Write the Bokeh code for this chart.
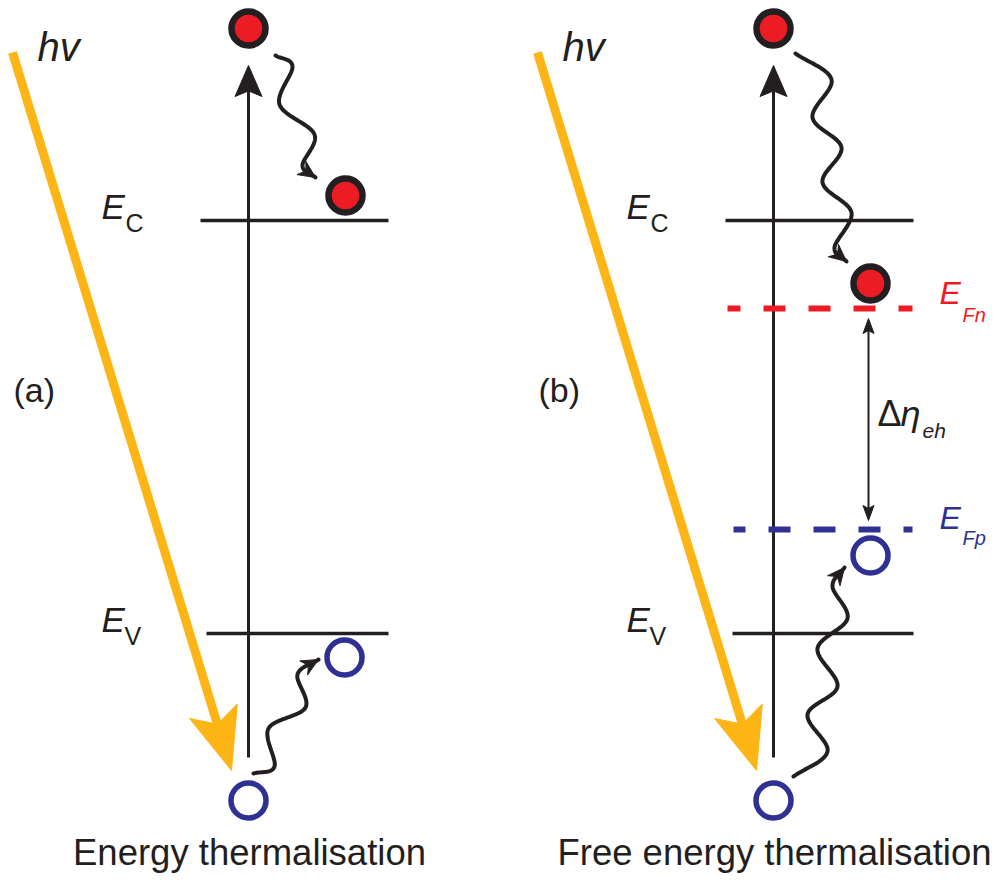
import numpy as np
from bokeh.plotting import figure
from bokeh.models import Range1d
from bokeh.core.properties import value
from bokeh.embed import file_html
from bokeh.resources import INLINE

W, H = 1004, 880

# colours
YELLOW = "#FDB515"
RED = "#ED1C24"
BLUE = "#2E3192"
INK = "#231F20"
FONT = value("Liberation Sans")

# the two panels share one layout, the second one shifted to the right
panel_dx = [0, 525]
panel_tags = ["(a)", "(b)"]
captions = ["Energy thermalisation", "Free energy thermalisation"]

# energy levels (screen y grows downwards)
ec_y = 220
ev_y = 633
efn_y = 308
efp_y = 529

# band edges: x extent per panel (left, right)
ec_span = [(200, 388), (725, 913)]
ev_span = [(206, 388), (732, 913)]

# photon arrow (start, tip) and excitation arrow
photon_start = (12, 52)
photon_tip = (231, 770)
excite_x = 248
excite_bottom = 757
excite_tip = 65

# carriers
hot_electron = (248, 28)
hot_hole = (248, 800)
cool_electron = [(345, 195), (870, 283)]
cool_hole = [(344, 657), (870, 555)]

# relaxation paths (turning points of the wavy arrows)
relax_e = [
    [(275, 55), (292, 66), (279, 104), (314, 134), (302, 165), (315, 177)],
    [(795, 53), (831, 79), (812, 117), (841, 147), (822, 182), (851, 212),
     (834, 247), (846, 261)],
]
relax_h = [
    [(253, 773), (274, 766), (268, 728), (305, 707), (297, 674), (318, 659)],
    [(793, 776), (827, 751), (807, 714), (837, 686), (817, 648), (847, 618),
     (832, 586), (844, 567)],
]

# quasi-Fermi levels (panel b only)
efn_span = (727, 912)
efp_span = (733, 912)
split_x = 868
split_top = 318
split_bottom = 520


def head(tip, tail, length, half, notch=0.8):
    """Arrowhead polygon with a slightly notched back."""
    tx, ty = tip
    dx, dy = tx - tail[0], ty - tail[1]
    n = np.hypot(dx, dy)
    ux, uy = dx / n, dy / n
    px, py = -uy, ux
    bx, by = tx - length * ux, ty - length * uy
    xs = [tx, bx + half * px, tx - notch * length * ux, bx - half * px]
    ys = [ty, by + half * py, ty - notch * length * uy, by - half * py]
    return xs, ys


def smooth(pts, n=30):
    """Catmull-Rom curve through the given points."""
    P = np.array(pts, float)
    P = np.vstack([2 * P[0] - P[1], P, 2 * P[-1] - P[-2]])
    out = []
    t = np.linspace(0, 1, n, endpoint=False)[:, None]
    for i in range(1, len(P) - 2):
        p0, p1, p2, p3 = P[i - 1], P[i], P[i + 1], P[i + 2]
        seg = 0.5 * ((2 * p1) + (-p0 + p2) * t
                     + (2 * p0 - 5 * p1 + 4 * p2 - p3) * t ** 2
                     + (-p0 + 3 * p1 - 3 * p2 + p3) * t ** 3)
        out.append(seg)
    out.append(P[-2][None, :])
    return np.vstack(out)


p = figure(width=W, height=H, x_range=Range1d(0, W), y_range=Range1d(H, 0),
           output_backend="svg", toolbar_location=None,
           x_axis_location=None, y_axis_location=None, min_border=0)
p.xgrid.grid_line_color = None
p.ygrid.grid_line_color = None
p.outline_line_color = None
p.background_fill_color = "white"
p.border_fill_color = "white"


def text(x, y, s, size, color=INK, style="normal", align="left"):
    # y is the baseline; the renderer places glyphs a little low, so lift them
    px = float(size.rstrip("px"))
    p.text(x=[x], y=[y - 0.4 * px], text=[s], text_font=FONT, text_font_size=size,
           text_color=color, text_font_style=style, text_align=align,
           text_baseline="alphabetic")


def wavy(pts):
    c = smooth(pts)
    p.line(c[:, 0], c[:, 1], line_color=INK, line_width=4, line_cap="round",
           line_join="round")
    hx, hy = head(tuple(c[-1]), tuple(c[-8]), 17, 8, 0.68)
    p.patch(hx, hy, fill_color=INK, line_color=INK, line_width=1)


for k, dx in enumerate(panel_dx):
    # band edges
    p.line([ec_span[k][0], ec_span[k][1]], [ec_y, ec_y], line_color=INK, line_width=3.5)
    p.line([ev_span[k][0], ev_span[k][1]], [ev_y, ev_y], line_color=INK, line_width=3.5)

    # excitation arrow
    ex = excite_x + dx
    p.line([ex, ex], [excite_bottom, excite_tip + 24], line_color=INK, line_width=3)
    hx, hy = head((ex, excite_tip), (ex, excite_bottom), 31, 13.5, 0.82)
    p.patch(hx, hy, fill_color=INK, line_color=INK, line_width=1)

    # incoming photon
    s = (photon_start[0] + dx, photon_start[1])
    tp = (photon_tip[0] + dx, photon_tip[1])
    d = np.subtract(tp, s)
    u = d / np.hypot(*d)
    end = np.array(tp) - 0.75 * 60 * u
    p.line([s[0], end[0]], [s[1], end[1]], line_color=YELLOW, line_width=9)
    hx, hy = head(tp, s, 62, 25, 0.78)
    p.patch(hx, hy, fill_color=YELLOW, line_color=YELLOW, line_width=1)

    # relaxation paths
    wavy(relax_e[k])
    wavy(relax_h[k])

    # labels
    text(37 + dx, 62, "hv", "40px", style="italic")
    text(101 + dx, 220, "E", "35px", style="italic")
    text(125 + dx, 232, "C", "25px")
    text(101 + dx, 633, "E", "35px", style="italic")
    text(124 + dx, 645, "V", "25px")
    text(13 + dx, 403, panel_tags[k], "34px")
    text(249 + dx, 867, captions[k], "36.5px", align="center")

# quasi-Fermi levels
p.line(list(efn_span), [efn_y, efn_y], line_color=RED, line_width=6,
       line_dash="22 23", line_dash_offset=9)
p.line(list(efp_span), [efp_y, efp_y], line_color=BLUE, line_width=6,
       line_dash="22 23", line_dash_offset=10)
text(939, 305, "E", "32px", color=RED, style="italic")
text(962, 322, "Fn", "20px", color=RED, style="italic")
text(939, 530, "E", "32px", color=BLUE, style="italic")
text(962, 545, "Fp", "20px", color=BLUE, style="italic")

# quasi-Fermi level splitting
p.line([split_x, split_x], [split_top + 10, split_bottom - 10], line_color=INK, line_width=2)
hx, hy = head((split_x, split_top), (split_x, split_bottom), 15, 5.5, 0.8)
p.patch(hx, hy, fill_color=INK, line_color=INK)
hx, hy = head((split_x, split_bottom), (split_x, split_top), 15, 5.5, 0.8)
p.patch(hx, hy, fill_color=INK, line_color=INK)
text(877, 427, "\u0394", "36px")
text(900, 427, "\u03b7", "36px", style="italic")
text(922, 438, "eh", "21px", style="italic")

# carriers
for k, dx in enumerate(panel_dx):
    p.scatter([hot_electron[0] + dx], [hot_electron[1]], marker="circle", size=34,
              fill_color=RED, line_color=INK, line_width=6.5)
    p.scatter([hot_hole[0] + dx], [hot_hole[1]], marker="circle", size=35,
              fill_color="white", line_color=BLUE, line_width=5.5)
    p.scatter([cool_electron[k][0]], [cool_electron[k][1]], marker="circle", size=34,
              fill_color=RED, line_color=INK, line_width=6.5)
    p.scatter([cool_hole[k][0]], [cool_hole[k][1]], marker="circle", size=35,
              fill_color="white", line_color=BLUE, line_width=5.5)

open("out.html", "w").write(file_html(p, INLINE))
